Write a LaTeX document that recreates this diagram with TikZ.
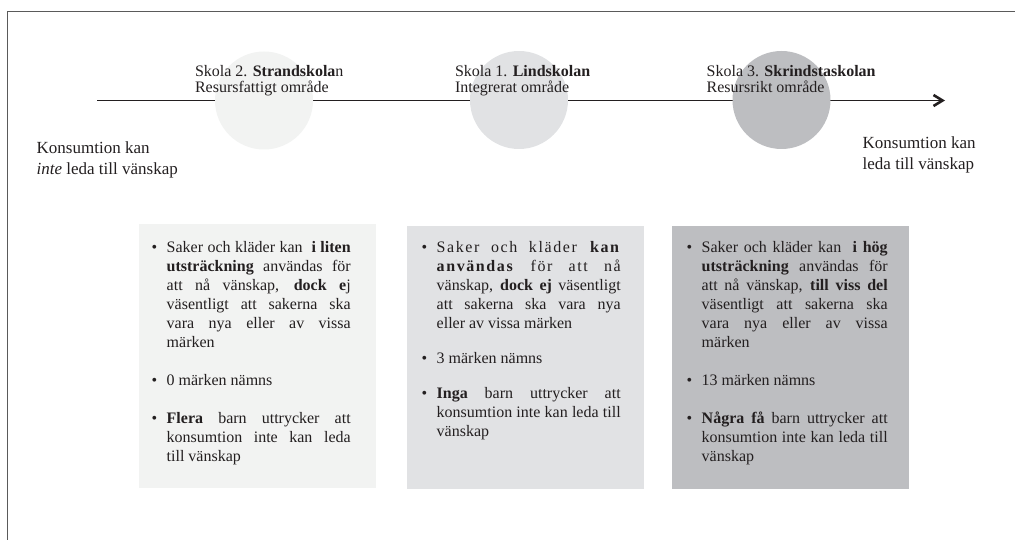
\documentclass[tikz,border=0pt]{standalone}
\usepackage{fontspec}
\setmainfont{Liberation Serif}
\usetikzlibrary{arrows.meta}
\definecolor{cA}{HTML}{F2F3F2}
\definecolor{cB}{HTML}{E1E2E4}
\definecolor{cC}{HTML}{BDBEC1}
\definecolor{ink}{HTML}{231F20}
\definecolor{framec}{HTML}{5A5A5A}
\newcommand{\bul}{\noindent\hangindent=15pt\hangafter=1\hbox to 15pt{\textbullet\hfil}\ignorespaces}
\newcommand{\boxsetup}{\parskip=19pt\parfillskip=0pt plus 1fil\tolerance=10000\spaceskip=.25em plus 1em minus .05em\relax}
\begin{document}
\begin{tikzpicture}[x=1pt,y=-1pt,
  every node/.style={inner sep=0pt, outer sep=0pt, text=ink},
  disc/.style={circle, minimum size=98pt, draw=none},
  panel/.style={rectangle, minimum width=237pt, minimum height=263pt, anchor=north west, draw=none},
  toplabel/.style={anchor=base west, font={\fontsize{16}{16}\selectfont}},
  sidelabel/.style={anchor=base west, font={\fontsize{17}{21.5}\selectfont}},
  boxtext/.style={anchor=base west, font={\fontsize{16}{19}\selectfont}},
  axis/.style={draw=ink, line width=1.2pt, -{Straight Barb[length=9pt,width=11pt,line width=2.6pt]}},
]
\useasboundingbox (0,0) rectangle (1015,540);
% frame
\draw[framec, line width=1.3pt] (1016,11.5) -- (7.7,11.5) -- (7.7,541);
% axis
\coordinate (s) at (97,100.5);
\coordinate (e) at (945,100.5);
\draw[axis] (s) -- (e);
% discs
\node[disc, fill=cA] (c2) at (264,100.5) {};
\node[disc, fill=cB] (c1) at (519,100) {};
\node[disc, fill=cC] (c3) at (781.5,100) {};
% top labels
\node[toplabel] (l2) at (195,76.5) {\parbox[t]{200pt}{Skola 2. \textbf{Strandskola}n\\Resursfattigt område}};
\node[toplabel] (l1) at (455,76.5) {\parbox[t]{200pt}{Skola 1. \textbf{Lindskolan}\\Integrerat område}};
\node[toplabel] (l3) at (706.7,76.5) {\parbox[t]{200pt}{Skola 3. \textbf{Skrindstaskolan}\\Resursrikt område}};
% side labels
\node[sidelabel] (left) at (36.7,153.5) {\parbox[t]{200pt}{Konsumtion kan\\\textit{inte} leda till vänskap}};
\node[sidelabel] (right) at (862.7,148.5) {\parbox[t]{150pt}{Konsumtion kan\\leda till vänskap}};
% panels
\node[panel, fill=cA] (b2) at (139,224.5) {};
\node[panel, fill=cB] (b1) at (406.7,226) {};
\node[panel, fill=cC] (b3) at (671.7,226) {};
% panel texts
\node[boxtext] (t2) at (151.7,253) {\parbox[t]{199pt}{\boxsetup
\bul Saker och kläder kan \ \textbf{i liten}\linebreak \textbf{utsträckning} användas för\linebreak att nå vänskap, \textbf{dock e}j\linebreak väsentligt att sakerna ska\linebreak vara nya eller av vissa\linebreak märken\par
\bul 0 märken nämns\par
\bul \textbf{Flera} barn uttrycker att\linebreak konsumtion inte kan leda\linebreak till vänskap}};
\node[boxtext] (t1) at (421.7,253) {\parbox[t]{199pt}{\boxsetup\parskip=16pt
\bul {\addfontfeature{LetterSpace=10}Saker och kläder \textbf{kan}\linebreak \textbf{användas} för att nå}\linebreak vänskap, \textbf{dock ej} väsentligt\linebreak att sakerna ska vara nya\linebreak eller av vissa märken\par
\bul 3 märken nämns\par
\bul \textbf{Inga} barn uttrycker att\linebreak konsumtion inte kan leda till\linebreak vänskap}};
\node[boxtext] (t3) at (686.7,253) {\parbox[t]{201pt}{\boxsetup
\bul Saker och kläder kan \ \textbf{i hög}\linebreak \textbf{utsträckning} användas för\linebreak att nå vänskap, \textbf{till viss del}\linebreak väsentligt att sakerna ska\linebreak vara nya eller av vissa\linebreak märken\par
\bul 13 märken nämns\par
\bul \textbf{Några få} barn uttrycker att\linebreak konsumtion inte kan leda till\linebreak vänskap}};
\end{tikzpicture}
\end{document}
